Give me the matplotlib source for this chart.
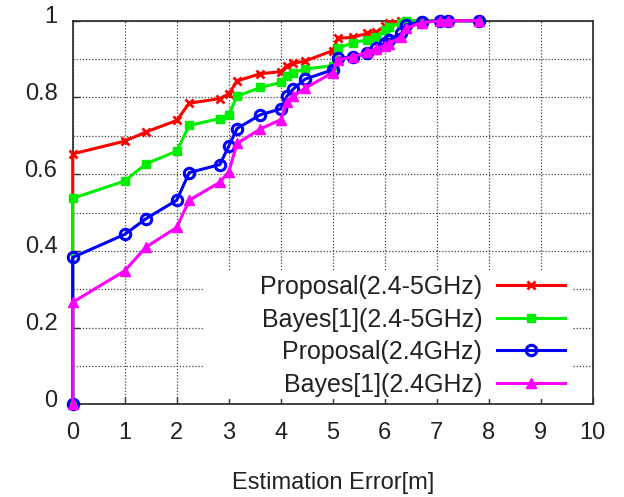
import matplotlib
matplotlib.use("Agg")
import matplotlib.pyplot as plt
import matplotlib.transforms as mtransforms
from matplotlib.patches import Rectangle

plt.rcParams['font.family'] = ['Liberation Sans', 'DejaVu Sans']

# distanze di errore (m), comuni a tutte le curve
errore = [0.0, 0.0, 1.0, 1.41, 2.0, 2.24, 2.83, 3.0, 3.16, 3.61, 4.0, 4.12, 4.24,
          4.47, 5.0, 5.1, 5.39, 5.66, 5.83, 6.0, 6.08, 6.32, 6.4, 6.71, 7.07, 7.21, 7.81]

cdf_prop_dual = [0.0, 0.653, 0.686, 0.710, 0.740, 0.785, 0.797, 0.809, 0.843, 0.862,
                 0.867, 0.883, 0.889, 0.895, 0.922, 0.954, 0.957, 0.967, 0.970, 0.985,
                 0.994, 1.0, 1.0, 1.0, 1.0, 1.0, 1.0]
cdf_bayes_dual = [0.0, 0.537, 0.582, 0.627, 0.660, 0.727, 0.745, 0.755, 0.803, 0.826,
                  0.839, 0.856, 0.865, 0.874, 0.883, 0.928, 0.943, 0.950, 0.958, 0.975,
                  0.984, 0.994, 1.0, 1.0, 1.0, 1.0, 1.0]
cdf_prop_24 = [0.0, 0.383, 0.443, 0.484, 0.532, 0.604, 0.625, 0.673, 0.719, 0.755,
               0.770, 0.803, 0.822, 0.848, 0.872, 0.902, 0.906, 0.915, 0.928, 0.941,
               0.950, 0.967, 0.989, 0.997, 1.0, 1.0, 1.0]
cdf_bayes_24 = [0.0, 0.266, 0.348, 0.410, 0.461, 0.532, 0.579, 0.606, 0.680, 0.718,
                0.742, 0.788, 0.803, 0.824, 0.865, 0.898, 0.906, 0.918, 0.927, 0.935,
                0.940, 0.958, 0.980, 0.995, 1.0, 1.0, 1.0]

etichette = ["Proposal(2.4-5GHz)", "Bayes[1](2.4-5GHz)",
             "Proposal(2.4GHz)", "Bayes[1](2.4GHz)"]

fig = plt.figure(figsize=(6.24, 4.97), dpi=100)
ax = fig.add_axes([0.1165, 0.1865, 0.8335, 0.7718])

ax.plot(errore, cdf_prop_dual, color='#ff0000', lw=2.2, marker='x', ms=6, mew=2,
        label=etichette[0], zorder=3, clip_on=False)
ax.plot(errore, cdf_bayes_dual, color='#00ee00', lw=2.2, marker='s', ms=5.5,
        label=etichette[1], zorder=3, clip_on=False)
ax.plot(errore, cdf_prop_24, color='#0000ff', lw=2.2, marker='o', ms=7.5, mfc='none',
        mew=2.2, label=etichette[2], zorder=3, clip_on=False)
ax.plot(errore, cdf_bayes_24, color='#ff00ff', lw=2.2, marker='^', ms=7.5,
        label=etichette[3], zorder=3, clip_on=False)

ax.set_xlim(0, 10)
ax.set_ylim(0, 1)
ax.set_xticks(range(0, 11))
ax.set_yticks([0, 0.2, 0.4, 0.6, 0.8, 1.0])
ax.set_yticklabels(['0', '0.2', '0.4', '0.6', '0.8', '1'])
ax.set_yticks([0.1, 0.3, 0.5, 0.7, 0.9], minor=True)

ax.grid(True, which='both', color='#444444', linestyle=(0, (1, 1.5)), linewidth=0.9)
ax.set_axisbelow(True)
ax.tick_params(axis='both', which='major', direction='in', length=5, width=1,
               labelsize=17, colors='#333333', labelcolor='#222222')
ax.tick_params(axis='x', pad=13)
ax.tick_params(axis='y', pad=11)
ax.tick_params(axis='y', which='minor', length=0)
for sp in ax.spines.values():
    sp.set_color('#333333')
    sp.set_linewidth(1.3)

# etichette asse y leggermente spostate in alto
sposta = mtransforms.ScaledTranslation(0, 6 / 100, fig.dpi_scale_trans)
for lab in ax.get_yticklabels():
    lab.set_transform(lab.get_transform() + sposta)

ax.set_xlabel("Estimation Error[m]", fontsize=17, color='#222222', labelpad=20)

# sfondo bianco sotto la legenda che nasconde la griglia
ax.add_patch(Rectangle((0.2504, 0.015), 0.7093, 0.335, transform=ax.transAxes,
                       facecolor='white', edgecolor='none', zorder=1))

leg = ax.legend(loc='upper right', bbox_to_anchor=(0.946, 0.337), frameon=False,
                markerfirst=False, fontsize=18, handlelength=2.7, handletextpad=0.6,
                labelspacing=0.34, borderpad=0, borderaxespad=0)
for t in leg.get_texts():
    t.set_color('#222222')
    t.set_ha('right')

fig.savefig("out.png", dpi=100)
